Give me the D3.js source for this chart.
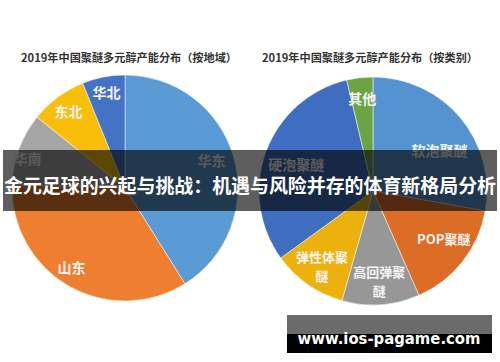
<!DOCTYPE html>
<html>
<head>
  <meta charset="utf-8">
  <style>
    body { margin: 0; background: #fff; }
    svg { display: block; }
  </style>
</head>
<body>
  <script src="https://cdn.jsdelivr.net/npm/d3@7/dist/d3.min.js"></script>
  <script>
    // chart data
    const regionTitle = "2019年中国聚醚多元醇产能分布（按地域）";
    const regionNames = ["华东", "山东", "华南", "东北", "华北"];
    const regionShares = [41.1, 34.4, 10.3, 8.1, 6.1];

    const typeTitle = "2019年中国聚醚多元醇产能分布（按类别）";
    const typeNames = ["软泡聚醚", "POP聚醚", "高回弹聚醚", "弹性体聚醚", "硬泡聚醚", "其他"];
    const typeShares = [27.8, 15.6, 11.0, 10.6, 31.3, 3.7];

    const bannerText = "金元足球的兴起与挑战：机遇与风险并存的体育新格局分析";
    const siteText = "www.ios-pagame.com";

    const w = 500;
    const h = 362;
    const cjk = "'Noto Sans CJK SC', 'Noto Sans', sans-serif";

    const svg = d3.select("body")
      .append("svg")
      .attr("width", w)
      .attr("height", h);

    // one pie chart: title, slices, labels
    function drawPie(opts) {
      const g = svg.append("g")
        .attr("transform", "translate(" + opts.cx + "," + opts.cy + ")");

      svg.append("text")
        .attr("x", opts.titleX)
        .attr("y", 57)
        .attr("text-anchor", "middle")
        .attr("dominant-baseline", "central")
        .attr("font-family", cjk)
        .attr("font-weight", "bold")
        .attr("font-size", 11)
        .attr("fill", "#333")
        .attr("textLength", 216)
        .attr("lengthAdjust", "spacingAndGlyphs")
        .text(opts.title);

      const pie = d3.pie().sort(null).value((d) => d);
      const arcs = pie(opts.values);
      const arc = d3.arc().innerRadius(0).outerRadius(opts.r);

      g.selectAll("path")
        .data(arcs)
        .enter()
        .append("path")
        .attr("d", arc)
        .attr("fill", (d, i) => opts.colors[i])
        .attr("stroke", "#fff")
        .attr("stroke-width", 0.5);

      // label spot: mid angle nudged a bit, at a fraction of the radius (like Excel's best fit)
      const labelPos = (d, i) => {
        const a = (d.startAngle + d.endAngle) / 2 + opts.labelTurn[i] * Math.PI / 180;
        const rr = opts.r * opts.labelR[i];
        return [Math.sin(a) * rr, -Math.cos(a) * rr];
      };

      const labels = g.selectAll("text")
        .data(arcs)
        .enter()
        .append("text")
        .attr("transform", (d, i) => "translate(" + labelPos(d, i) + ")")
        .attr("text-anchor", "middle")
        .attr("font-family", cjk)
        .attr("font-weight", "bold")
        .attr("font-size", (d, i) => opts.names[i].length > 4 ? 13 : 14)
        .attr("fill", "#f4f4f4");

      // long names wrap after four characters, like the original
      labels.each(function (d, i) {
        const name = opts.names[i];
        const lines = name.length > 4 && !/^[A-Z]/.test(name)
          ? [name.slice(0, 4), name.slice(4)] : [name];
        const t = d3.select(this);
        lines.forEach((line, k) => {
          t.append("tspan")
            .attr("x", 0)
            .attr("y", (k - (lines.length - 1) / 2) * 19)
            .attr("dy", "0.35em")
            .text(line);
        });
      });
    }

    drawPie({
      cx: 125, cy: 188, r: 113, titleX: 129,
      labelR: [0.8, 0.85, 0.9, 0.84, 0.86],
      labelTurn: [-1, 4, -4, 0, 0],
      title: regionTitle, names: regionNames, values: regionShares,
      colors: ["#5b9bd5", "#ef7f30", "#a5a5a5", "#f8be0a", "#4472c4"]
    });

    drawPie({
      cx: 373, cy: 191, r: 114, titleX: 370,
      labelR: [0.68, 0.75, 0.8, 0.8, 0.71, 0.81],
      labelTurn: [9, -4, 0, -1, -2, 0],
      title: typeTitle, names: typeNames, values: typeShares,
      colors: ["#5592d0", "#dd6c27", "#979797", "#ecb10c", "#3f6dbf", "#6aa443"]
    });

    // dark banner across the middle
    svg.append("rect")
      .attr("x", 3)
      .attr("y", 150)
      .attr("width", 494)
      .attr("height", 61)
      .attr("fill", "#000")
      .attr("fill-opacity", 0.63);

    svg.append("text")
      .attr("x", 250)
      .attr("y", 184)
      .attr("text-anchor", "middle")
      .attr("dominant-baseline", "central")
      .attr("font-family", cjk)
      .attr("font-weight", "bold")
      .attr("font-size", 19)
      .attr("fill", "#fff")
      .attr("textLength", 492)
      .attr("lengthAdjust", "spacingAndGlyphs")
      .text(bannerText);

    // watermark box, bottom right
    svg.append("rect")
      .attr("x", 287).attr("y", 315)
      .attr("width", 205).attr("height", 19)
      .attr("fill", "#6b6b6b");
    svg.append("rect")
      .attr("x", 287).attr("y", 334)
      .attr("width", 205).attr("height", 19)
      .attr("fill", "#000");

    svg.append("text")
      .attr("x", 389)
      .attr("y", 338)
      .attr("text-anchor", "middle")
      .attr("dominant-baseline", "central")
      .attr("font-family", "'DejaVu Sans', sans-serif")
      .attr("font-weight", "bold")
      .attr("font-size", 16)
      .attr("fill", "#fff")
      .attr("textLength", 183)
      .attr("lengthAdjust", "spacingAndGlyphs")
      .text(siteText);
  </script>
</body>
</html>
